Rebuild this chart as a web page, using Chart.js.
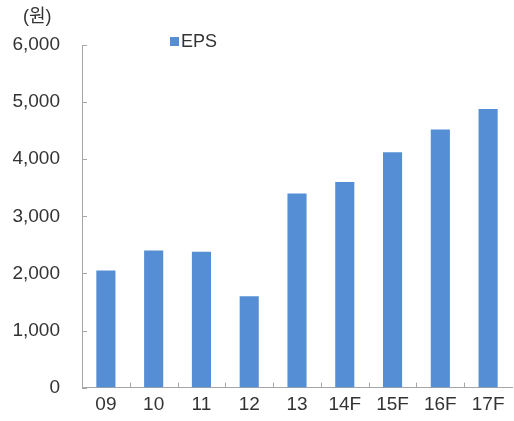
<!DOCTYPE html>
<html>
<head>
<meta charset="utf-8">
<script src="https://cdn.jsdelivr.net/npm/chart.js@4"></script>
<style>
  html, body { margin: 0; padding: 0; background: #fff; }
  #wrap { width: 514px; height: 421px; position: relative; }
</style>
</head>
<body>
<div id="wrap"><canvas id="c" width="514" height="421"></canvas></div>
<script>
// EPS by year (won); F = forecast
const categories = ['09', '10', '11', '12', '13', '14F', '15F', '16F', '17F'];
const epsValues = [2050, 2400, 2380, 1600, 3400, 3600, 4120, 4520, 4880];
const yTicks = [0, 1000, 2000, 3000, 4000, 5000, 6000];
const seriesName = 'EPS';
const unitLabel = '(원)';

const barColor = '#558ed5';
const axisColor = '#a6a6a6';
const textColor = '#333333';
const fontFamily = '"Liberation Sans", Arial, "Noto Sans CJK KR", sans-serif';

// Short inward tick marks on both axes, plus the unit caption and legend
const decorations = {
  id: 'decorations',
  afterDraw(chart) {
    const { ctx, chartArea, scales } = chart;
    const x = scales.x, y = scales.y;
    ctx.save();
    ctx.strokeStyle = axisColor;
    ctx.lineWidth = 1;
    ctx.beginPath();
    yTicks.forEach(v => {
      const py = Math.round(y.getPixelForValue(v)) + 0.5;
      ctx.moveTo(chartArea.left, py);
      ctx.lineTo(chartArea.left + 5, py);
    });
    for (let i = 1; i < categories.length; i++) {
      const px = Math.round((x.getPixelForValue(i - 1) + x.getPixelForValue(i)) / 2) + 0.5;
      ctx.moveTo(px, chartArea.bottom);
      ctx.lineTo(px, chartArea.bottom - 5);
    }
    ctx.stroke();

    ctx.fillStyle = textColor;
    ctx.font = '18px ' + fontFamily;
    ctx.textBaseline = 'middle';
    ctx.textAlign = 'left';
    ctx.fillText(unitLabel, 23, 17);

    // legend
    ctx.fillStyle = barColor;
    ctx.fillRect(170, 37, 9, 9);
    ctx.fillStyle = textColor;
    ctx.font = '18px ' + fontFamily;
    ctx.fillText(seriesName, 181, 42);
    ctx.restore();
  }
};

new Chart(document.getElementById('c'), {
  type: 'bar',
  data: {
    labels: categories,
    datasets: [{
      label: seriesName,
      data: epsValues,
      backgroundColor: barColor,
      borderWidth: 0,
      categoryPercentage: 1,
      barPercentage: 0.4
    }]
  },
  options: {
    responsive: false,
    animation: false,
    layout: { padding: { top: 45, right: 2, bottom: -3, left: 0 } },
    plugins: { legend: { display: false }, tooltip: { enabled: false } },
    scales: {
      x: {
        grid: { display: false, drawTicks: false },
        border: { display: true, color: axisColor, width: 1 },
        ticks: {
          color: textColor,
          font: { family: fontFamily, size: 19 },
          padding: 5.6,
          maxRotation: 0
        }
      },
      y: {
        min: 0,
        max: 6000,
        grid: { display: false, drawTicks: false },
        border: { display: true, color: axisColor, width: 1 },
        afterBuildTicks(s) { s.ticks = yTicks.map(v => ({ value: v })); },
        ticks: {
          color: textColor,
          font: { family: fontFamily, size: 19 },
          padding: 22,
          callback: v => v.toLocaleString('en-US')
        },
        afterFit(s) { s.width = 82; }
      }
    }
  },
  plugins: [decorations]
});
</script>
</body>
</html>
